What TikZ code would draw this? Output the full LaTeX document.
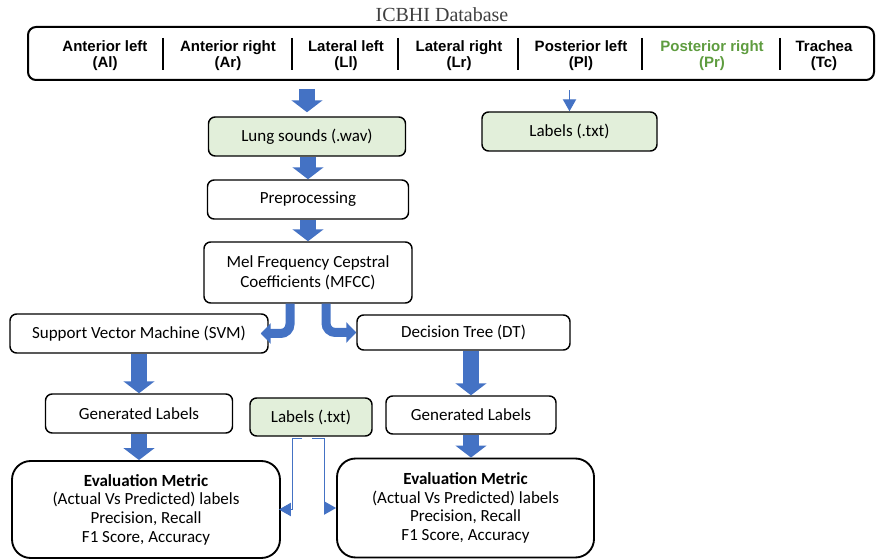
\documentclass[tikz,border=0pt]{standalone}
\usepackage{fontspec}
\setmainfont{Carlito}
\newfontfamily\arialfont{Liberation Sans}
\newfontfamily\titlefont{Liberation Serif}
\usetikzlibrary{arrows.meta}

\definecolor{arrowblue}{HTML}{4472C4}
\definecolor{boxgreen}{HTML}{E2EFDA}
\definecolor{prgreen}{HTML}{5E9C3F}

\begin{document}
\begin{tikzpicture} [x=0.75pt, y=-0.75pt,
				procbox/.style={
				% The shape:
				rectangle, rounded corners=5pt,
				% The size:
      				minimum height=29.25pt,
				% The border:
     				 draw=black, line width=1.1pt,
      				% The filling:
				fill=white,
				% Font
				font=\fontsize{12.75}{15}\selectfont
    				},
				databox/.style={
				procbox,
      				% The filling:
				fill=boxgreen
    				},
				evalbox/.style={
				procbox,
				% The shape:
				rounded corners=14pt,
				% The border:
				line width=1.4pt,
				% Font
				font=\fontsize{12.75}{14}\selectfont
    				},
				colname/.style={
				font=\arialfont\bfseries\fontsize{11.25}{12}\selectfont
    				},
				bigarrow/.style={
				draw=arrowblue, line width=12pt,
				-{Triangle[width=23pt,length=9pt]}
    				},
				bendarrow/.style={
				draw=arrowblue, line width=6.75pt, rounded corners=7pt,
				-{Triangle[width=15pt,length=7.5pt]}
    				},
				link/.style={
				draw=arrowblue, line width=0.8pt,
				-{Triangle[width=10pt,length=9pt]}
    				},
				]
    \tikzstyle{every node} = [align=center]
    \useasboundingbox (0,0) rectangle (878,559);

    % database header
    \node [font=\titlefont\fontsize{15}{16}\selectfont, text=black!75] (title) at (442,15) {ICBHI Database};
    \node [draw=black, line width=1.5pt, rounded corners=6pt, minimum width=634.5pt, minimum height=39.75pt] (db) at (451,53.5) {};
    \node [colname] (al) at (105,56) {Anterior left\\(Al)};
    \node [colname] (ar) at (228,56) {Anterior right\\(Ar)};
    \node [colname] (ll) at (346,56) {Lateral left\\(Ll)};
    \node [colname] (lr) at (459,56) {Lateral right\\(Lr)};
    \node [colname] (pl) at (581,56) {Posterior left\\(Pl)};
    \node [colname, text=prgreen] (pr) at (712,56) {Posterior right\\(Pr)};
    \node [colname] (tc) at (824,56) {Trachea\\(Tc)};
    \foreach \sx in {163,292,398,518,642,780}
        \draw [line width=0.8pt] (\sx,38) -- (\sx,70);

    % processing chain
    \node [databox, minimum width=147.75pt] (lung) at (307,136.5) {Lung sounds (.wav)};
    \node [databox, minimum width=131.25pt] (lbltop) at (569.5,131.5) {Labels (.txt)};
    \node [procbox, minimum width=150.75pt] (preproc) at (308,199.5) {Preprocessing};
    \node [procbox, minimum width=156pt, minimum height=45.75pt] (mfcc) at (308,272.5) {Mel Frequency Cepstral\\Coefficients (MFCC)};
    \node [procbox, minimum width=193.5pt] (svm) at (139,333.5) {Support Vector Machine (SVM)};
    \node [procbox, minimum width=159.75pt, minimum height=26.25pt] (dt) at (463.5,332.5) {Decision Tree (DT)};
    \node [procbox, minimum width=140.25pt] (genl) at (139,413.5) {Generated Labels};
    \node [databox, minimum width=91.5pt, minimum height=28.5pt] (lblbot) at (311,417) {Labels (.txt)};
    \node [procbox, minimum width=127.5pt, minimum height=28.5pt] (genr) at (471,415) {Generated Labels};
    \node [evalbox, minimum width=201pt, minimum height=72.75pt] (evall) at (146,509.5)
        {\textbf{Evaluation Metric}\\(Actual Vs Predicted) labels\\Precision, Recall\\F1 Score, Accuracy};
    \node [evalbox, minimum width=192.75pt, minimum height=74.25pt] (evalr) at (465.5,508)
        {\textbf{Evaluation Metric}\\(Actual Vs Predicted) labels\\Precision, Recall\\F1 Score, Accuracy};

    % arrows
    \draw [bigarrow, shorten <=6pt, shorten >=3pt] (db.south -| lung.north) -- (lung.north);
    \draw [link, shorten <=7pt] (db.south -| lbltop.north) -- (lbltop.north);
    \draw [bigarrow] (lung.south -| preproc.north) -- (preproc.north);
    \draw [bigarrow] (preproc.south) -- (mfcc.north);
    \draw [bendarrow, shorten >=-6pt] ([xshift=-13.5pt]mfcc.south) |- (svm.east);
    \draw [bendarrow] ([xshift=13.5pt]mfcc.south) |- (dt.west);
    \draw [bigarrow] (svm.south -| genl.north) -- (genl.north);
    \draw [bigarrow] (genr.north |- dt.south) -- (genr.north);
    \draw [bigarrow] (genl.south) -- (genl.south |- evall.north);
    \draw [bigarrow] (genr.south) -- (genr.south |- evalr.north);
    \draw [link, shorten >=-1.5pt] ([xshift=-6.75pt,yshift=-1.5pt]lblbot.south) -| ([xshift=9pt]evall.east) -- (evall.east);
    \draw [link] ([xshift=0.75pt,yshift=-1.5pt]lblbot.south) -| ([xshift=-9pt]evalr.west) -- (evalr.west);
\end{tikzpicture}
\end{document}
